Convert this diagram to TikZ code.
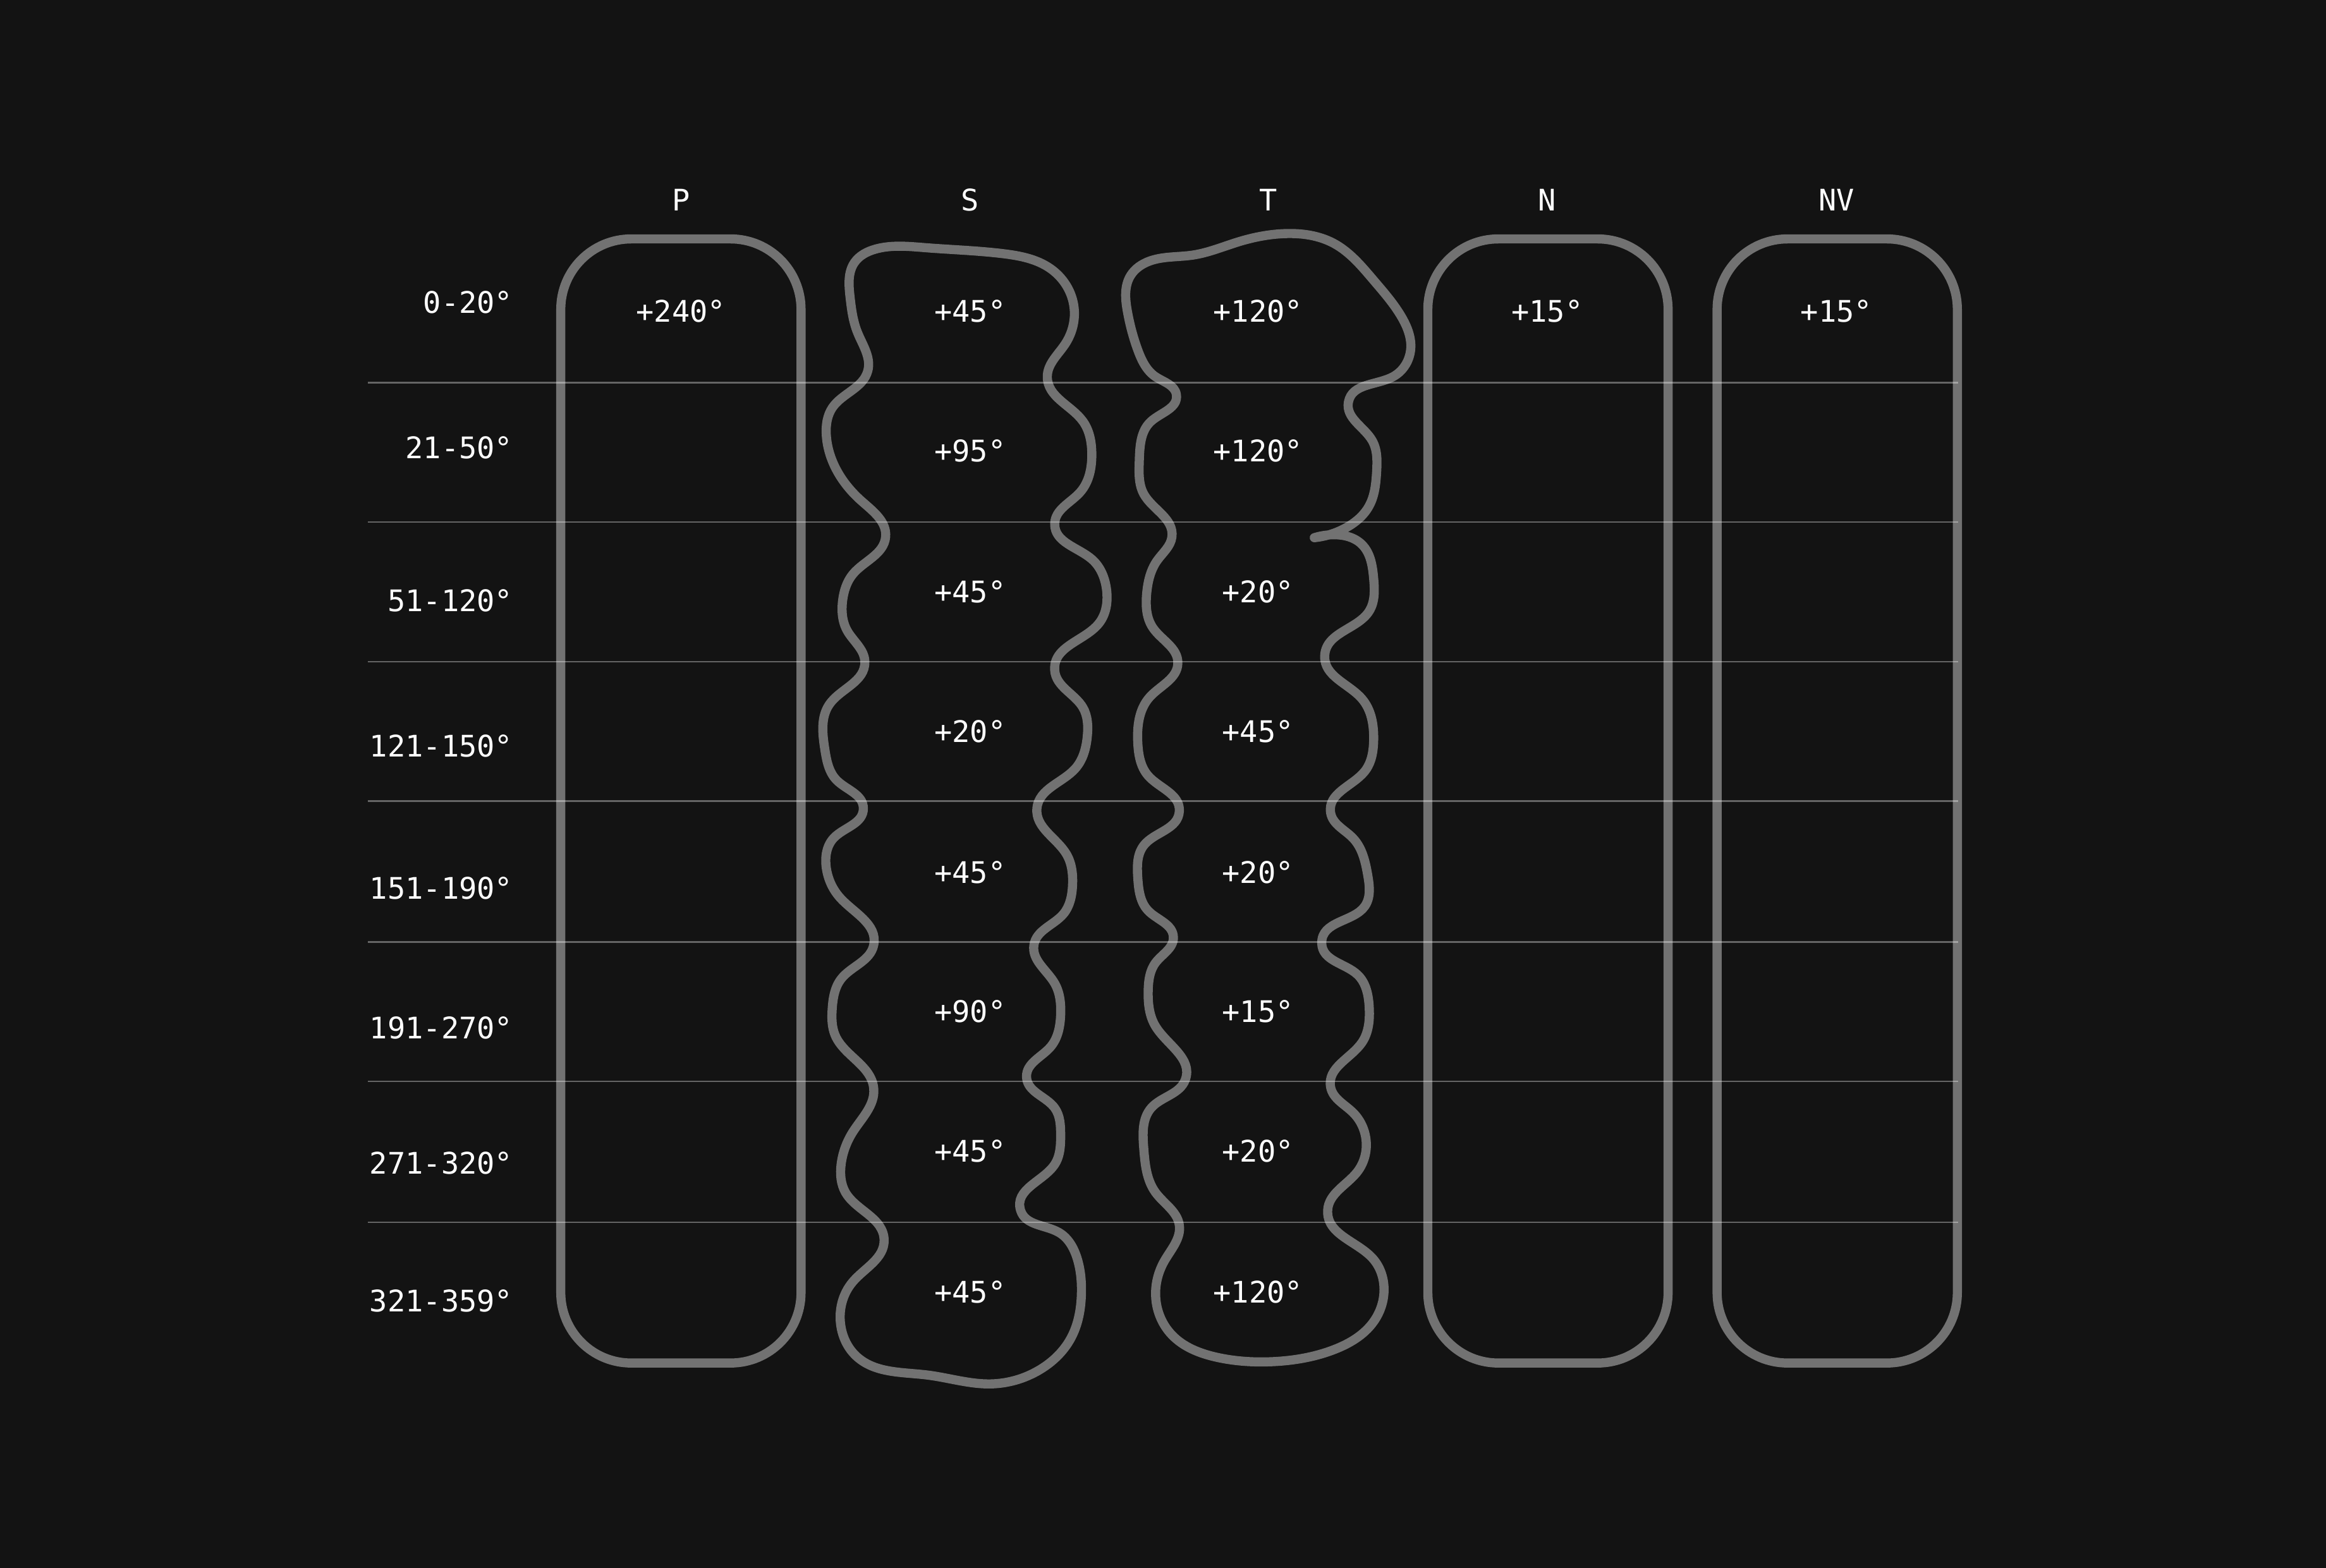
\documentclass[tikz,border=0pt]{standalone}
\usepackage{fontspec}
\setmonofont{DejaVu Sans Mono}
\usetikzlibrary{hobby}
\definecolor{bgcol}{HTML}{131313}
\definecolor{linecol}{HTML}{727272}

\begin{document}
\begin{tikzpicture}[x=0.02cm, y=-0.02cm,
	lbl/.style={text=white, font=\ttfamily\fontsize{11.4}{13}\selectfont, inner sep=0pt},
	colbox/.style={draw=linecol, line width=3.5pt, rounded corners=0.95cm, minimum width=3.24cm, minimum height=15.16cm, inner sep=0pt},
	blob/.style={draw=linecol, line width=3.5pt, line join=round, line cap=round, use Hobby shortcut},
	gridline/.style={draw=white, opacity=0.35, line width=0.6pt}]
	
	\fill[bgcol] (0,0) rectangle (1568,1057);
	\useasboundingbox (0,0) rectangle (1568,1057);
	
	% straight columns
	\node [colbox] (boxP) at (459,540) {};
	\node [colbox] (boxN) at (1043.5,540) {};
	\node [colbox] (boxNV) at (1238.5,540) {};
	
	% wobbly columns
	\draw [blob, closed=true] (590,168) .. (624,167) .. (676,171) .. (708,181) .. (724,207)
		.. (718,232) .. (706,254) .. (730,284) .. (736,306) .. (728,332) .. (711,353)
		.. (736,377) .. (746,398) .. (741,420) .. (711,452) .. (730,477) .. (733,496)
		.. (725,518) .. (699,545) .. (719,576) .. (723,597) .. (717,616) .. (697,637)
		.. (711,663) .. (715,684) .. (708,706) .. (692,726) .. (711,747) .. (715,765)
		.. (711,785) .. (688,816) .. (714,831) .. (726,848) .. (729,872) .. (722,902)
		.. (700,924) .. (668,933) .. (625,927) .. (578,915) .. (567,895) .. (575,864)
		.. (596,836) .. (570,804) .. (567,785) .. (575,763) .. (589,734) .. (563,698)
		.. (561,680) .. (567,660) .. (589,637) .. (567,606) .. (557,585) .. (562,565)
		.. (582,545) .. (564,526) .. (556,505) .. (559,475) .. (583,446) .. (571,425)
		.. (568,405) .. (575,387) .. (597,362) .. (581,338) .. (564,317) .. (557,293)
		.. (561,275) .. (585,250) .. (578,224) .. (573,200) .. (576,177);
	\draw [blob] (886,362.5) .. (907,356) .. (923,341) .. (928,318) .. (925,297) .. (909,271)
		.. (939,254) .. (951,235) .. (945,214) .. (926,189) .. (899,164) .. (866,157.5)
		.. (835,163) .. (804,172) .. (775,176) .. (762,186) .. (760,210) .. (767,236)
		.. (779,254) .. (793,266) .. (776,284) .. (768,311) .. (771,333) .. (790,362)
		.. (780,378) .. (773,400) .. (777,423) .. (794,447) .. (775,470) .. (767,501)
		.. (774,523) .. (795,547) .. (771,570) .. (767,592) .. (774,614) .. (791,632)
		.. (779,649) .. (774,668) .. (779,692) .. (799,728) .. (776,747) .. (771,774)
		.. (779,804) .. (795,826) .. (785,850) .. (779,872) .. (790,900) .. (820,915)
		.. (858,918) .. (899,910) .. (926,891) .. (933,869) .. (925,848) .. (895,816)
		.. (915,790) .. (921,770) .. (912,750) .. (897,733) .. (918,703) .. (923,679)
		.. (915,657) .. (891,636) .. (920,611) .. (922,590) .. (912,565) .. (897,548)
		.. (920,520) .. (926,499) .. (918,471) .. (893,442) .. (923,412) .. (926,390)
		.. (918,367) .. (899,360.5) .. (886,362.5);
	
	% row separators
	\foreach \y in {258,352,446,540,635,729,824}
		\draw [gridline] (248,\y) -- (1320,\y);
	
	% column heads
	\node [lbl] (hP) at (459,135) {P};
	\node [lbl] (hS) at (654,135) {S};
	\node [lbl] (hT) at (855,135) {T};
	\node [lbl] (hN) at (1043,135) {N};
	\node [lbl] (hNV) at (1238,135) {NV};
	
	% row heads
	\foreach \t/\y [count=\i] in {0-20°/204, 21-50°/302, 51-120°/405, 121-150°/503,
		151-190°/599, 191-270°/693, 271-320°/784, 321-359°/877}
		\node [lbl, anchor=east] (row\i) at (346,\y) {\t};
	
	% values
	\node [lbl] (vP1) at (459,210) {+240°};
	\node [lbl] (vN1) at (1043,210) {+15°};
	\node [lbl] (vNV1) at (1238,210) {+15°};
	\foreach \s/\t/\y [count=\i] in {45/120/210, 95/120/304, 45/20/399, 20/45/493,
		45/20/588, 90/15/682, 45/20/776, 45/120/871}
	{
		\node [lbl] (vS\i) at (654,\y) {+\s°};
		\node [lbl] (vT\i) at (848,\y) {+\t°};
	}
	
\end{tikzpicture}
\end{document}
